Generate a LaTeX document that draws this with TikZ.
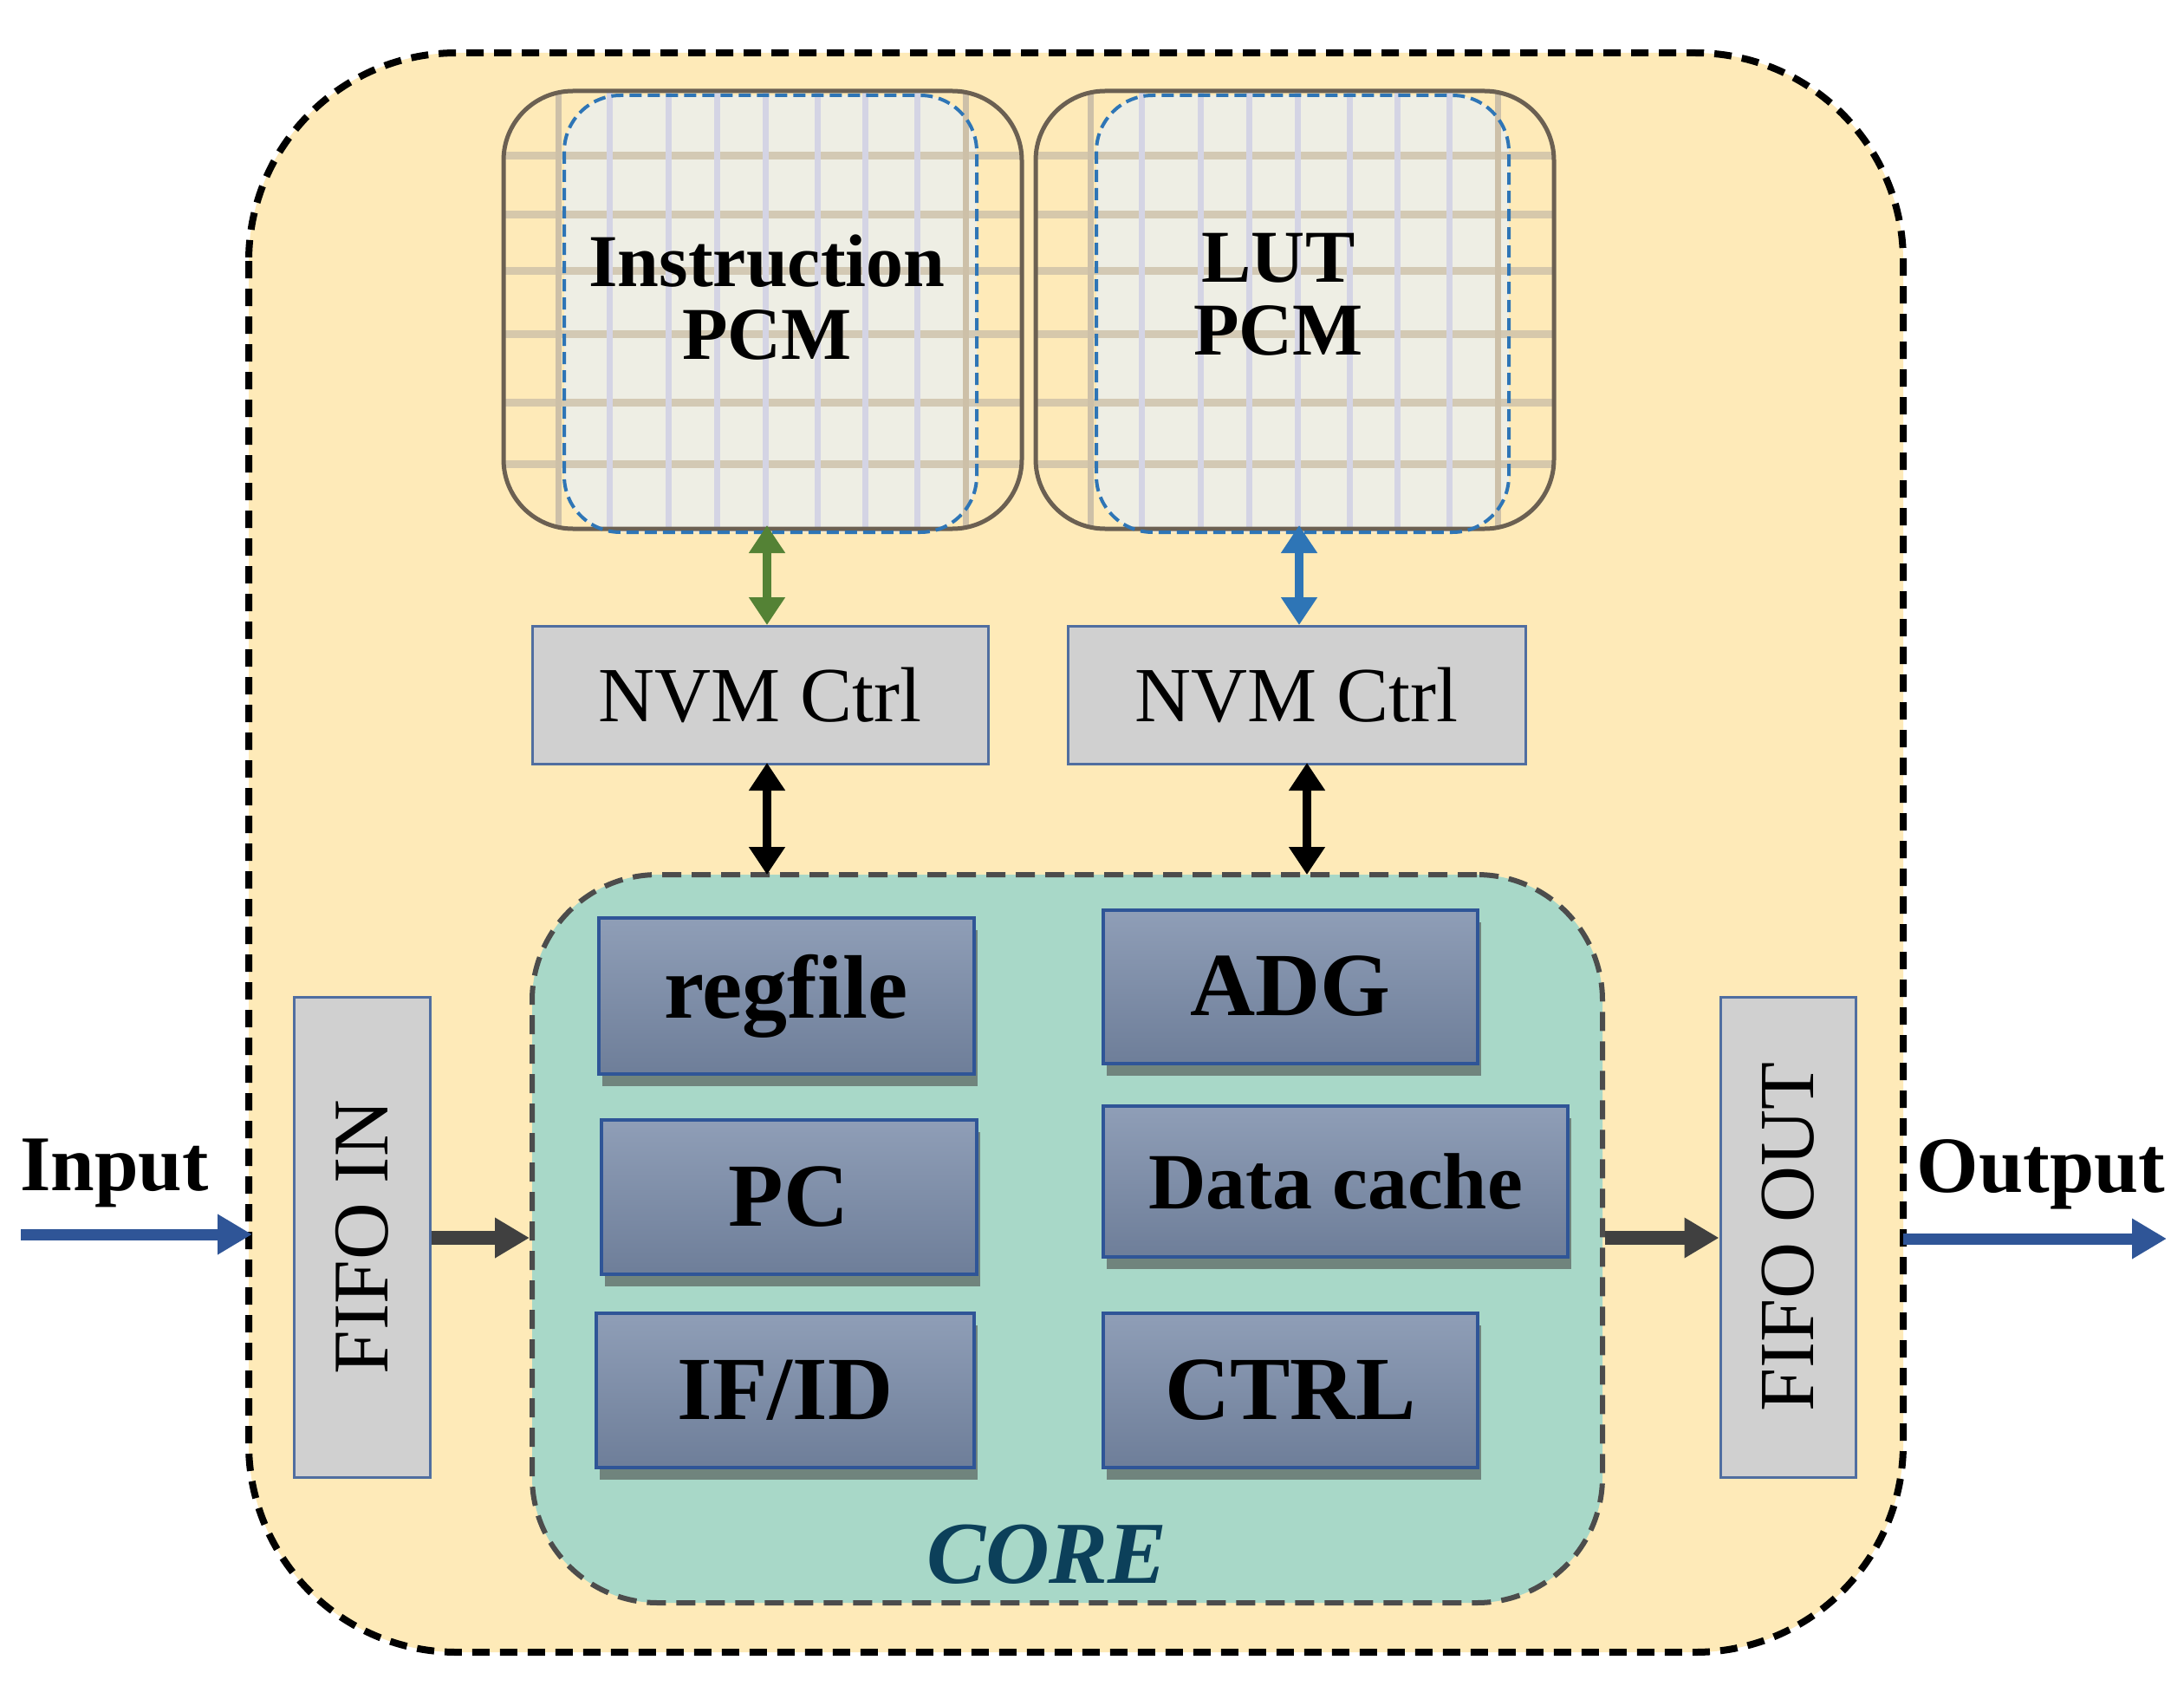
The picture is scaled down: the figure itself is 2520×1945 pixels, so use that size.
\documentclass[tikz,border=0pt]{standalone}
\usepackage{fontspec}
\setmainfont{Liberation Serif}
\usetikzlibrary{arrows.meta,shadows}
\definecolor{bgY}{RGB}{254,234,184}
\definecolor{coreG}{RGB}{168,216,200}
\definecolor{subT}{RGB}{143,158,183}
\definecolor{subB}{RGB}{110,126,153}
\definecolor{subE}{RGB}{47,85,151}
\definecolor{nvmF}{RGB}{208,208,208}
\definecolor{nvmE}{RGB}{80,110,160}
\definecolor{pcmF}{RGB}{238,238,228}
\definecolor{pcmE}{RGB}{107,96,82}
\definecolor{gridT}{RGB}{205,192,168}
\definecolor{gridL}{RGB}{212,212,228}
\definecolor{dashB}{RGB}{46,117,182}
\definecolor{arG}{RGB}{84,130,53}
\definecolor{arB}{RGB}{46,117,182}
\definecolor{inB}{RGB}{47,85,151}
\definecolor{coreT}{RGB}{12,64,90}
\definecolor{grA}{RGB}{64,64,64}
\newcommand{\fs}[1]{\fontsize{#1}{#1}\selectfont}
\tikzset{
  sub/.style={draw=subE,line width=4pt,top color=subT,bottom color=subB,
    drop shadow={shadow xshift=4pt,shadow yshift=-14pt,fill=black!70,opacity=.6},
    font=\fs{104}\bfseries,text=black,inner sep=0pt},
  nvm/.style={draw=nvmE,line width=3pt,fill=nvmF,font=\fs{90},inner sep=0pt},
  dbl/.style={line width=10pt,{Triangle[width=40pt,length=32pt]}-{Triangle[width=40pt,length=32pt]}},
  one/.style={line width=13pt,-{Triangle[width=44pt,length=40pt]}},
}
\begin{document}
\begin{tikzpicture}[x=1pt,y=-1pt]
\useasboundingbox (0,0) rectangle (2520,1945);
\fill[white] (0,0) rectangle (2520,1945);
% outer
\draw[fill=bgY,line width=8pt,dash pattern=on 20pt off 12pt,rounded corners=240pt] (287,61) rectangle (2196,1906);
% PCM blocks
\foreach \dx/\nm in {0/ipcm,614/lpcm}{
  \begin{scope}[xshift=\dx pt]
    \fill[pcmF,rounded corners=65pt] (651,110) rectangle (1127,614);
    \begin{scope}
      \clip[rounded corners=80pt] (581,105) rectangle (1179,610);
      \foreach \y in {180,248,312,385,464,535} \draw[gridT,line width=9pt,opacity=.8] (581,\y) -- (1179,\y);
      \foreach \x in {703,771,827,883,943,998,1058} \draw[gridL,line width=7pt] (\x,105) -- (\x,614);
      \foreach \x in {644,1114} \draw[gridT,line width=7pt] (\x,105) -- (\x,614);
    \end{scope}
    \draw[pcmE,line width=5pt,rounded corners=80pt] (581,105) rectangle (1179,610);
    \draw[dashB,line width=4pt,dash pattern=on 14pt off 7pt,rounded corners=65pt] (651,110) rectangle (1127,614);
    \coordinate (\nm) at (\ifnum\dx=0 885\else 885\fi,612);
  \end{scope}}
\node[font=\fs{86}\bfseries,align=center] (it) at (885,343) {Instruction\\[-2pt]PCM};
\node[font=\fs{86}\bfseries,align=center] (lt) at (1475,340) {LUT\\[-2pt]PCM};
\coordinate (ib) at (885,606);
\coordinate (lb) at (1499,606);
% NVM
\node[nvm,minimum width=526pt,minimum height=159pt] (n1) at (877,802) {NVM Ctrl};
\node[nvm,minimum width=528pt,minimum height=159pt] (n2) at (1496,802) {NVM Ctrl};
\draw[dbl,arG] (ib) -- (ib|-n1.north);
\draw[dbl,arB] (lb) -- (lb|-n2.north);
% core
\node[draw=black!70,fill=coreG,line width=6pt,dash pattern=on 22pt off 12pt,rounded corners=145pt,
  minimum width=1235pt,minimum height=840pt] (core) at (1231.5,1429) {};
\node[font=\fs{102}\bfseries\itshape,text=coreT] (ct) at (1208,1793) {CORE};
\draw[dbl,black] (885,880) -- (885,1009);
\draw[dbl,black] (1508,880) -- (1508,1009);
% sub
\node[sub,minimum width=433pt,minimum height=180pt] (rf) at (907,1149) {regfile};
\node[sub,minimum width=432pt,minimum height=177pt] (adg) at (1489,1138) {ADG};
\node[sub,minimum width=433pt,minimum height=178pt] (pc) at (910,1381) {PC};
\node[sub,minimum width=536pt,minimum height=174pt,font=\fs{92}\bfseries] (dc) at (1541,1363) {Data cache};
\node[sub,minimum width=436pt,minimum height=178pt] (ifid) at (906,1604) {IF/ID};
\node[sub,minimum width=432pt,minimum height=178pt] (ctrl) at (1489,1604) {CTRL};
% FIFOs
\node[nvm,minimum width=157pt,minimum height=554pt] (fi) at (417.5,1427) {};
\node[font=\fs{91},rotate=90] at (fi) {FIFO IN};
\node[nvm,minimum width=156pt,minimum height=554pt] (fo) at (2063,1427) {};
\node[font=\fs{90},rotate=90] at (fo) {FIFO OUT};
\draw[one,grA,line width=16pt] (fi.east|-0,1428) -- (core.west|-0,1428);
\draw[one,grA,line width=16pt] (core.east|-0,1428) -- (fo.west|-0,1428);
% I/O
\node[font=\fs{91}\bfseries] (in) at (132,1353) {Input};
\node[font=\fs{92}\bfseries] (out) at (2355,1355) {Output};
\coordinate (is) at (24,1424);
\coordinate (oe) at (2500,1429);
\draw[one,inB] (is) -- (291,1424);
\draw[one,inB] (2196,1429) -- (oe);
\end{tikzpicture}
\end{document}
